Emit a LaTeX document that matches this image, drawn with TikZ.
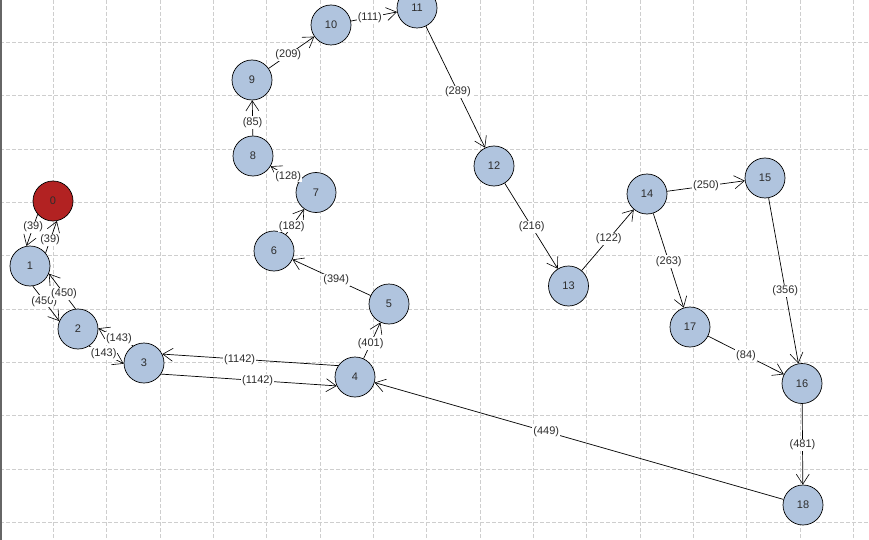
\documentclass[tikz,border=0pt]{standalone}
\usepackage{fontspec}
\setmainfont{Liberation Sans}
\usetikzlibrary{arrows.meta}
\definecolor{nodeblue}{RGB}{176,196,222}
\definecolor{nodered}{RGB}{178,34,34}
\definecolor{gridgray}{RGB}{206,206,206}
\definecolor{txtgray}{RGB}{45,45,45}
\tikzset{
  gridline/.style={draw=gridgray, line width=0.8pt, dash pattern=on 4pt off 2pt},
  vnode/.style={circle, draw=black, line width=0.7pt, fill=nodeblue, minimum size=40pt, inner sep=0pt, text=txtgray, font=\fontsize{11}{13}\selectfont},
  startnode/.style={vnode, fill=nodered},
  edge/.style={draw=black, line width=0.7pt, -{Straight Barb[length=10pt,width=13pt,line width=0.6pt]}},
  lbl/.style={fill=white, inner sep=1pt, text=txtgray, font=\fontsize{11}{13}\selectfont}
}
\begin{document}
\begin{tikzpicture}[x=1pt,y=-1pt]
\useasboundingbox (0,0) rectangle (869,540);
\clip (0,0) rectangle (869,540);
\fill[white] (0,0) rectangle (869,540);
\foreach \k in {1,...,16} \draw[gridline] ({53.333*\k},0) -- ({53.333*\k},540);
\foreach \k in {0,...,9} \draw[gridline] (0,{42.333+53.333*\k}) -- (869,{42.333+53.333*\k});
\fill[black!60] (0,0) rectangle (1.7,540);

\node[startnode] (n0) at (53,201) {0};
\node[vnode] (n1) at (30,266) {1};
\node[vnode] (n2) at (78,329) {2};
\node[vnode] (n3) at (144,363) {3};
\node[vnode] (n4) at (355,377) {4};
\node[vnode] (n5) at (389,304) {5};
\node[vnode] (n6) at (274,251) {6};
\node[vnode] (n7) at (316,192.5) {7};
\node[vnode] (n8) at (253,156) {8};
\node[vnode] (n9) at (252,80) {9};
\node[vnode] (n10) at (331,25) {10};
\node[vnode] (n11) at (417,8) {11};
\node[vnode] (n12) at (494,166) {12};
\node[vnode] (n13) at (568.5,286) {13};
\node[vnode] (n14) at (647,194) {14};
\node[vnode] (n15) at (765,178) {15};
\node[vnode] (n16) at (802,383.5) {16};
\node[vnode] (n17) at (690,327) {17};
\node[vnode] (n18) at (803,505) {18};

\draw[edge] (n0.-139.5) -- node[lbl,pos=0.40]{(39)} (n1.100.5);
\draw[edge] (n1.40.5) -- node[lbl,pos=0.40]{(39)} (n0.-79.5);
\draw[edge] (n1.-82.7) -- node[lbl,pos=0.43]{(450)} (n2.157.3);
\draw[edge] (n2.97.3) -- node[lbl,pos=0.43]{(450)} (n1.-22.7);
\draw[edge] (n2.-57.3) -- node[lbl,pos=0.42]{(143)} (n3.182.7);
\draw[edge] (n3.122.7) -- node[lbl,pos=0.41]{(143)} (n2.2.7);
\draw[edge] (n3.-33.8) -- node[lbl,pos=0.55]{(1142)} (n4.206.2);
\draw[edge] (n4.146.2) -- node[lbl,pos=0.56]{(1142)} (n3.26.2);
\draw[edge] (n4) -- node[lbl,pos=0.42]{(401)} (n5);
\draw[edge] (n5) -- node[lbl,pos=0.44]{(394)} (n6);
\draw[edge] (n6) -- node[lbl,pos=0.32]{(182)} (n7);
\draw[edge] (n7) -- node[lbl,pos=0.37]{(128)} (n8);
\draw[edge] (n8) -- node[lbl,pos=0.37]{(85)} (n9);
\draw[edge] (n9) -- node[lbl,pos=0.43]{(209)} (n10);
\draw[edge] (n10) -- node[lbl,pos=0.41]{(111)} (n11);
\draw[edge] (n11) -- node[lbl,pos=0.54]{(289)} (n12);
\draw[edge] (n12) -- node[lbl,pos=0.51]{(216)} (n13);
\draw[edge] (n13) -- node[lbl,pos=0.52]{(122)} (n14);
\draw[edge] (n14) -- node[lbl,pos=0.50]{(250)} (n15);
\draw[edge] (n14) -- node[lbl,pos=0.51]{(263)} (n17);
\draw[edge] (n15) -- node[lbl,pos=0.56]{(356)} (n16);
\draw[edge] (n17) -- node[lbl,pos=0.50]{(84)} (n16);
\draw[edge] (n16) -- node[lbl,pos=0.51]{(481)} (n18);
\draw[edge] (n18) -- node[lbl,pos=0.58]{(449)} (n4);
\end{tikzpicture}
\end{document}
